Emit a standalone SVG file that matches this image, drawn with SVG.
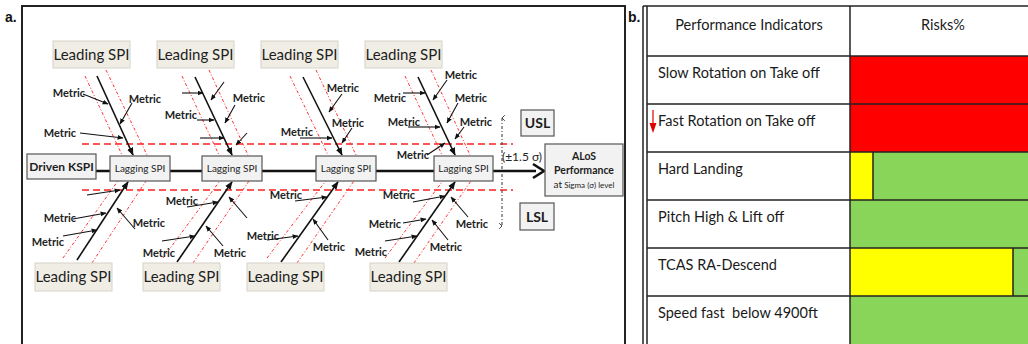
<svg xmlns="http://www.w3.org/2000/svg" width="1028" height="344" viewBox="0 0 1028 344">
  <defs>
    <marker id="ah" viewBox="0 0 10 10" refX="9" refY="5" markerWidth="6" markerHeight="6" orient="auto" markerUnits="userSpaceOnUse">
      <path d="M0,1 L10,5 L0,9 z" fill="#111"/>
    </marker>
    <marker id="ahBig" viewBox="0 0 10 10" refX="9" refY="5" markerWidth="8" markerHeight="8" orient="auto" markerUnits="userSpaceOnUse">
      <path d="M0,1 L10,5 L0,9 z" fill="#111"/>
    </marker>
    <marker id="chev" viewBox="0 0 10 10" refX="5" refY="1" markerWidth="7" markerHeight="7" orient="auto-start-reverse" markerUnits="userSpaceOnUse">
      <path d="M1,5 L5,1 L9,5" fill="none" stroke="#444" stroke-width="1.4"/>
    </marker>
  </defs>
  <style>
    .frame { fill: none; stroke: #222; stroke-width: 2; }
    .lead rect { fill: #f0ede5; stroke: #d6d2c8; stroke-width: 1; }
    .lead text { font-family: Lato, "Liberation Sans", sans-serif; font-size: 15px; fill: #1e1e1e; text-anchor: middle; }
    .box rect { fill: #f2f2f2; stroke: #555; stroke-width: 1.2; }
    .box text { font-family: Lato, "Liberation Sans", sans-serif; fill: #1e1e1e; text-anchor: middle; }
    .lag text { font-size: 10px; }
    .bone { stroke: #111; stroke-width: 1.6; fill: none; marker-end: url(#ahBig); }
    .met { stroke: #111; stroke-width: 1.1; fill: none; marker-end: url(#ah); }
    .dot { stroke: #ff3030; stroke-width: 1; stroke-dasharray: 3 2 1 2; fill: none; }
    .lim { stroke: #ff2020; stroke-width: 1.6; stroke-dasharray: 7 4; fill: none; }
    .mlabel { font-family: Lato, "Liberation Sans", sans-serif; font-weight: bold; font-size: 11px; fill: #222; text-anchor: middle; }
    .tbl { font-family: Lato, "Liberation Sans", sans-serif; font-size: 14.5px; fill: #1a1a1a; white-space: pre; }
    .rule { stroke: #222; stroke-width: 1.5; fill: none; }
    .tag { font-family: "Liberation Sans", Arial, sans-serif; font-weight: bold; font-size: 14px; fill: #111; }
  </style>

  <rect width="1028" height="344" fill="#ffffff"/>

  <!-- panel a: fishbone chart -->
  <text class="tag" x="5" y="22">a.</text>
  <path class="frame" d="M22,344 V6 H625 V344"/>

  <!-- control limits -->
  <g id="limits">
    <line class="lim" x1="82" y1="144" x2="513" y2="144"/>
    <line class="lim" x1="82" y1="190" x2="513" y2="190"/>
    <line x1="502" y1="118" x2="502" y2="226" stroke="#444" stroke-width="1.1" stroke-dasharray="3 2 1 2" marker-start="url(#chev)" marker-end="url(#chev)"/>
    <text x="522" y="161" font-family="Lato, 'Liberation Sans', sans-serif" font-size="12" fill="#222" text-anchor="middle">(±1.5 σ)</text>
  </g>

  <!-- guide bands along each bone -->
  <g id="bands">
    <line class="dot" x1="85" y1="76" x2="122" y2="155"/>
    <line class="dot" x1="106" y1="70" x2="147" y2="155"/>
    <line class="dot" x1="182" y1="76" x2="219" y2="155"/>
    <line class="dot" x1="209" y1="70" x2="248" y2="155"/>
    <line class="dot" x1="290" y1="76" x2="328" y2="155"/>
    <line class="dot" x1="316" y1="70" x2="356" y2="155"/>
    <line class="dot" x1="405" y1="76" x2="442" y2="155"/>
    <line class="dot" x1="431" y1="70" x2="470" y2="155"/>

    <line class="dot" x1="63" y1="258" x2="120" y2="178"/>
    <line class="dot" x1="92" y1="263" x2="148" y2="178"/>
    <line class="dot" x1="163" y1="258" x2="222" y2="178"/>
    <line class="dot" x1="193" y1="263" x2="251" y2="178"/>
    <line class="dot" x1="267" y1="258" x2="328" y2="178"/>
    <line class="dot" x1="297" y1="263" x2="356" y2="178"/>
    <line class="dot" x1="385" y1="258" x2="445" y2="178"/>
    <line class="dot" x1="414" y1="263" x2="473" y2="178"/>
  </g>

  <!-- connectors: spine, bones and metric arrows -->
  <g id="connectors">
    <line x1="96" y1="171" x2="536" y2="171" stroke="#111" stroke-width="2.4"/>
    <path d="M533,164 L544,171 L533,178" fill="none" stroke="#111" stroke-width="2.6" stroke-linejoin="miter"/>

    <line class="bone" x1="97" y1="76" x2="133" y2="155"/>
    <line class="bone" x1="195" y1="77" x2="232" y2="155"/>
    <line class="bone" x1="303" y1="77" x2="342" y2="155"/>
    <line class="bone" x1="418" y1="77" x2="455" y2="155"/>
    <line class="bone" x1="77" y1="260" x2="128" y2="182"/>
    <line class="bone" x1="177" y1="262" x2="232" y2="182"/>
    <line class="bone" x1="281" y1="262" x2="338" y2="182"/>
    <line class="bone" x1="399" y1="262" x2="455" y2="182"/>

    <!-- upper bone 1 -->
    <line class="met" x1="83" y1="94" x2="108" y2="104"/>
    <line class="met" x1="132" y1="103" x2="120" y2="124"/>
    <line class="met" x1="80" y1="133" x2="123" y2="138"/>
    <!-- upper bone 2 -->
    <line class="met" x1="182" y1="93" x2="203" y2="93"/>
    <line class="met" x1="224" y1="82" x2="211" y2="100"/>
    <line class="met" x1="235" y1="105" x2="225" y2="123"/>
    <line class="met" x1="197" y1="120" x2="214" y2="120"/>
    <line class="met" x1="200" y1="138" x2="224" y2="138"/>
    <line class="met" x1="247" y1="133" x2="236" y2="145"/>
    <!-- upper bone 3 -->
    <line class="met" x1="342" y1="94" x2="329" y2="112"/>
    <line class="met" x1="352" y1="128" x2="342" y2="143"/>
    <line class="met" x1="300" y1="138" x2="332" y2="138"/>
    <!-- upper bone 4 -->
    <line class="met" x1="447" y1="80" x2="433" y2="100"/>
    <line class="met" x1="403" y1="93" x2="425" y2="93"/>
    <line class="met" x1="458" y1="103" x2="447" y2="123"/>
    <line class="met" x1="408" y1="127" x2="440" y2="127"/>
    <line class="met" x1="464" y1="127" x2="455" y2="139"/>
    <line class="met" x1="427" y1="155" x2="445" y2="143"/>
    <!-- lower bone 1 -->
    <line class="met" x1="87" y1="195" x2="120" y2="190"/>
    <line class="met" x1="73" y1="219" x2="106" y2="213"/>
    <line class="met" x1="135" y1="229" x2="117" y2="208"/>
    <line class="met" x1="63" y1="236" x2="97" y2="230"/>
    <!-- lower bone 2 -->
    <line class="met" x1="187" y1="207" x2="218" y2="202"/>
    <line class="met" x1="247" y1="218" x2="229" y2="197"/>
    <line class="met" x1="162" y1="241" x2="195" y2="236"/>
    <line class="met" x1="223" y1="246" x2="206" y2="226"/>
    <!-- lower bone 3 -->
    <line class="met" x1="295" y1="201" x2="327" y2="197"/>
    <line class="met" x1="267" y1="240" x2="298" y2="236"/>
    <line class="met" x1="328" y1="240" x2="313" y2="219"/>
    <!-- lower bone 4 -->
    <line class="met" x1="413" y1="202" x2="445" y2="196"/>
    <line class="met" x1="403" y1="223" x2="426" y2="219"/>
    <line class="met" x1="468" y1="217" x2="451" y2="197"/>
    <line class="met" x1="385" y1="241" x2="417" y2="236"/>
    <line class="met" x1="448" y1="240" x2="432" y2="220"/>
  </g>

  <!-- metric labels -->
  <g id="metric-labels">
    <text class="mlabel" x="69" y="97">Metric</text>
    <text class="mlabel" x="145" y="103">Metric</text>
    <text class="mlabel" x="60" y="137">Metric</text>
    <text class="mlabel" x="249" y="102">Metric</text>
    <text class="mlabel" x="181" y="119">Metric</text>
    <text class="mlabel" x="343" y="92">Metric</text>
    <text class="mlabel" x="348" y="127">Metric</text>
    <text class="mlabel" x="297" y="136">Metric</text>
    <text class="mlabel" x="461" y="79">Metric</text>
    <text class="mlabel" x="390" y="102">Metric</text>
    <text class="mlabel" x="471" y="102">Metric</text>
    <text class="mlabel" x="404" y="126">Metric</text>
    <text class="mlabel" x="476" y="126">Metric</text>
    <text class="mlabel" x="413" y="159">Metric</text>

    <text class="mlabel" x="60" y="222">Metric</text>
    <text class="mlabel" x="149" y="227">Metric</text>
    <text class="mlabel" x="48" y="246">Metric</text>
    <text class="mlabel" x="182" y="205">Metric</text>
    <text class="mlabel" x="159" y="257">Metric</text>
    <text class="mlabel" x="230" y="257">Metric</text>
    <text class="mlabel" x="286" y="199">Metric</text>
    <text class="mlabel" x="263" y="240">Metric</text>
    <text class="mlabel" x="329" y="251">Metric</text>
    <text class="mlabel" x="399" y="199">Metric</text>
    <text class="mlabel" x="385" y="228">Metric</text>
    <text class="mlabel" x="472" y="228">Metric</text>
    <text class="mlabel" x="371" y="256">Metric</text>
    <text class="mlabel" x="446" y="251">Metric</text>
  </g>

  <!-- leading SPI nodes -->
  <g id="lead-top-1" class="lead"><rect x="53" y="41" width="77" height="27"/><text x="91.5" y="60">Leading SPI</text></g>
  <g id="lead-top-2" class="lead"><rect x="157" y="41" width="77" height="27"/><text x="195.5" y="60">Leading SPI</text></g>
  <g id="lead-top-3" class="lead"><rect x="261" y="41" width="77" height="27"/><text x="299.5" y="60">Leading SPI</text></g>
  <g id="lead-top-4" class="lead"><rect x="365" y="41" width="77" height="27"/><text x="403.5" y="60">Leading SPI</text></g>
  <g id="lead-bot-1" class="lead"><rect x="35" y="263" width="77" height="28"/><text x="73.5" y="282">Leading SPI</text></g>
  <g id="lead-bot-2" class="lead"><rect x="143" y="263" width="77" height="28"/><text x="181.5" y="282">Leading SPI</text></g>
  <g id="lead-bot-3" class="lead"><rect x="247" y="263" width="77" height="28"/><text x="285.5" y="282">Leading SPI</text></g>
  <g id="lead-bot-4" class="lead"><rect x="370" y="263" width="77" height="28"/><text x="408.5" y="282">Leading SPI</text></g>

  <!-- spine nodes -->
  <g id="driven-kspi" class="box"><rect x="27" y="154" width="69" height="25"/><text x="61.5" y="171" font-size="12" font-weight="bold">Driven KSPI</text></g>
  <g id="lag-1" class="box lag"><rect x="110" y="156" width="60" height="25"/><text x="140" y="172">Lagging SPI</text></g>
  <g id="lag-2" class="box lag"><rect x="202" y="156" width="60" height="25"/><text x="232" y="172">Lagging SPI</text></g>
  <g id="lag-3" class="box lag"><rect x="316" y="156" width="60" height="25"/><text x="346" y="172">Lagging SPI</text></g>
  <g id="lag-4" class="box lag"><rect x="434" y="156" width="59" height="25"/><text x="463.5" y="172">Lagging SPI</text></g>
  <g id="alos" class="box">
    <rect x="545" y="144" width="78" height="52"/>
    <text x="584" y="160" font-size="10.5" font-weight="bold">ALoS</text>
    <text x="584" y="174" font-size="10.5" font-weight="bold">Performance</text>
    <text x="584" y="188" font-size="8"><tspan font-size="10">at</tspan> Sigma (σ) level</text>
  </g>
  <g id="usl" class="box"><rect x="521" y="110" width="33" height="26"/><text x="537.5" y="128" font-size="14" font-weight="bold">USL</text></g>
  <g id="lsl" class="box"><rect x="520" y="203" width="34" height="27"/><text x="537" y="222" font-size="14" font-weight="bold">LSL</text></g>

  <!-- panel b: risk table -->
  <text class="tag" x="628" y="22">b.</text>
  <g id="risk-table">
    <rect x="850" y="56" width="178" height="96" fill="#ff0000"/>
    <rect x="850" y="152" width="23" height="48" fill="#ffff00"/>
    <rect x="873" y="152" width="155" height="48" fill="#88d55a"/>
    <rect x="850" y="200" width="178" height="48" fill="#88d55a"/>
    <rect x="850" y="248" width="163" height="48" fill="#ffff00"/>
    <rect x="1013" y="248" width="15" height="48" fill="#88d55a"/>
    <rect x="850" y="296" width="178" height="48" fill="#88d55a"/>

    <line class="rule" x1="643" y1="6" x2="643" y2="344"/>
    <line class="rule" x1="647" y1="6" x2="647" y2="344"/>
    <line class="rule" x1="643" y1="6" x2="1028" y2="6"/>
    <line class="rule" x1="647" y1="56" x2="1028" y2="56"/>
    <line class="rule" x1="647" y1="104" x2="1028" y2="104"/>
    <line class="rule" x1="647" y1="152" x2="1028" y2="152"/>
    <line class="rule" x1="647" y1="200" x2="1028" y2="200"/>
    <line class="rule" x1="647" y1="248" x2="1028" y2="248"/>
    <line class="rule" x1="647" y1="296" x2="1028" y2="296"/>
    <line class="rule" x1="850" y1="6" x2="850" y2="344"/>
    <line class="rule" x1="873" y1="152" x2="873" y2="200"/>
    <line class="rule" x1="1013" y1="248" x2="1013" y2="296"/>

    <text class="tbl" x="749" y="30" text-anchor="middle">Performance Indicators</text>
    <text class="tbl" x="943" y="30" text-anchor="middle">Risks%</text>
    <text class="tbl" x="658" y="78">Slow Rotation on Take off</text>
    <text class="tbl" x="658" y="126">Fast Rotation on Take off</text>
    <text class="tbl" x="658" y="174">Hard Landing</text>
    <text class="tbl" x="658" y="222">Pitch High &amp; Lift off</text>
    <text class="tbl" x="658" y="270">TCAS RA-Descend</text>
    <text class="tbl" x="658" y="318" xml:space="preserve">Speed fast  below 4900ft</text>

    <!-- red down arrow -->
    <line x1="653" y1="110" x2="653" y2="124" stroke="#e00000" stroke-width="1.2"/>
    <path d="M649.5,123 L656.5,123 L653,133 z" fill="#e00000"/>
  </g>
</svg>
